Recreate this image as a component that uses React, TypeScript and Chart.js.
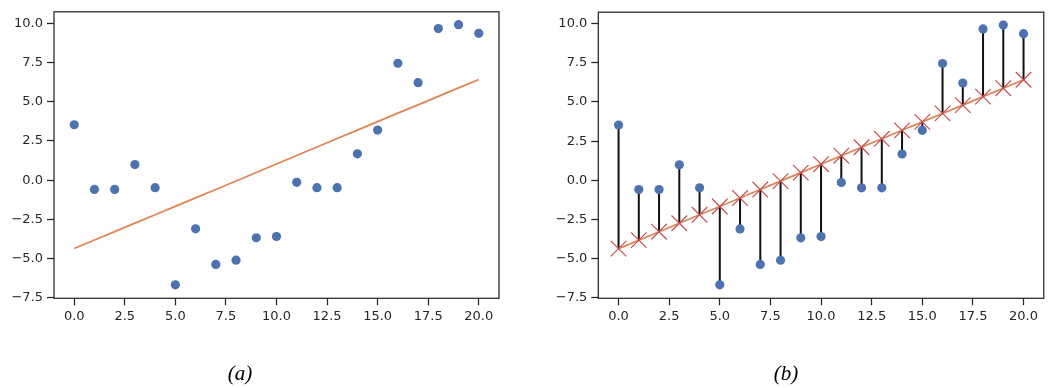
import React, { useEffect, useRef } from "react";
import { Chart, registerables } from "chart.js";

Chart.register(...registerables);

// ---- data ----
const xValues: number[] = [0, 1, 2, 3, 4, 5, 6, 7, 8, 9, 10, 11, 12, 13, 14, 15, 16, 17, 18, 19, 20];
const yValues: number[] = [
  3.53, -0.59, -0.59, 0.99, -0.48, -6.67, -3.1, -5.37, -5.1, -3.67, -3.59,
  -0.14, -0.48, -0.48, 1.68, 3.19, 7.45, 6.21, 9.66, 9.91, 9.36,
];
const fittedValues: number[] = [
  -4.36, -3.82, -3.28, -2.74, -2.2, -1.67, -1.13, -0.59, -0.05, 0.49, 1.03,
  1.57, 2.11, 2.65, 3.19, 3.73, 4.27, 4.8, 5.34, 5.88, 6.42,
];
const xTicks: number[] = [0, 2.5, 5, 7.5, 10, 12.5, 15, 17.5, 20];
const yTicks: number[] = [-7.5, -5, -2.5, 0, 2.5, 5, 7.5, 10];
const panelLabels: string[] = ["(a)", "(b)"];

const BLUE = "#4C72B0";
const ORANGE = "#DD8452";
const RED = "#C44E52";
const INK = "#262626";

const framePlugin = {
  id: "frame",
  afterDraw(chart: any) {
    const { ctx, chartArea } = chart;
    ctx.save();
    ctx.strokeStyle = INK;
    ctx.lineWidth = 1.25;
    ctx.strokeRect(chartArea.left, chartArea.top, chartArea.right - chartArea.left, chartArea.bottom - chartArea.top);
    ctx.restore();
  },
};

const fmt = (v: number) => v.toFixed(1).replace("-", "\u2212");

function scales() {
  const grid = {
    drawOnChartArea: false,
    drawTicks: true,
    tickLength: 7,
    tickWidth: 1.25,
    tickColor: INK,
  };
  const font = { family: "'DejaVu Sans'", size: 13 };
  return {
    x: {
      type: "linear",
      min: -1,
      max: 21,
      grid,
      border: { display: false },
      afterBuildTicks: (s: any) => {
        s.ticks = xTicks.map((v) => ({ value: v }));
      },
      afterFit: (s: any) => {
        s.height = 30;
      },
      ticks: { color: INK, font, padding: 4, maxRotation: 0, callback: (v: any) => fmt(Number(v)) },
    },
    y: {
      type: "linear",
      min: -7.53,
      max: 10.73,
      grid,
      border: { display: false },
      afterBuildTicks: (s: any) => {
        s.ticks = yTicks.map((v) => ({ value: v }));
      },
      afterFit: (s: any) => {
        s.width = 50;
      },
      ticks: { color: INK, font, padding: 4, callback: (v: any) => fmt(Number(v)) },
    },
  };
}

const points = xValues.map((x, i) => ({ x, y: yValues[i] }));
const fitPoints = xValues.map((x, i) => ({ x, y: fittedValues[i] }));

function makeConfigA(): any {
  return {
    type: "scatter",
    data: {
      datasets: [
        {
          data: points,
          pointRadius: 4.6,
          pointBackgroundColor: BLUE,
          pointBorderWidth: 0,
          showLine: false,
          order: 0,
        },
        {
          data: fitPoints,
          showLine: true,
          borderColor: ORANGE,
          borderWidth: 1.7,
          pointRadius: 0,
          order: 1,
        },
      ],
    },
    options: {
      animation: false,
      responsive: false,
      events: [],
      layout: { padding: { left: 4, right: 21, top: 9, bottom: 59.7 } },
      plugins: { legend: { display: false }, tooltip: { enabled: false } },
      scales: scales(),
    },
    plugins: [framePlugin],
  };
}

function makeConfigB(): any {
  const stems: any[] = [];
  xValues.forEach((x, i) => {
    stems.push({ x, y: fittedValues[i] });
    stems.push({ x, y: yValues[i] });
    stems.push({ x, y: null });
  });
  return {
    type: "scatter",
    data: {
      datasets: [
        {
          data: points,
          pointRadius: 4.6,
          pointBackgroundColor: BLUE,
          pointBorderWidth: 0,
          showLine: false,
          order: 0,
        },
        {
          data: fitPoints,
          showLine: false,
          pointStyle: "crossRot",
          pointRadius: 11,
          pointBorderColor: RED,
          pointBorderWidth: 1.2,
          order: 1,
        },
        {
          data: fitPoints,
          showLine: true,
          borderColor: ORANGE,
          borderWidth: 1.7,
          pointRadius: 0,
          order: 2,
        },
        {
          data: stems,
          showLine: true,
          spanGaps: false,
          borderColor: "#111111",
          borderWidth: 2,
          pointRadius: 0,
          order: 3,
        },
      ],
    },
    options: {
      animation: false,
      responsive: false,
      events: [],
      layout: { padding: { left: 28.3, right: 10.7, top: 9, bottom: 59.7 } },
      plugins: { legend: { display: false }, tooltip: { enabled: false } },
      scales: scales(),
    },
    plugins: [framePlugin],
  };
}

function Panel({ make, left, width }: { make: () => any; left: number; width: number }) {
  const ref = useRef<HTMLCanvasElement>(null);
  useEffect(() => {
    const chart = new Chart(ref.current as HTMLCanvasElement, make());
    return () => chart.destroy();
  }, []);
  return (
    <canvas
      ref={ref}
      width={width}
      height={388}
      style={{ position: "absolute", left, top: 0, width, height: 388 }}
    />
  );
}

export default function App() {
  const labelStyle = (cx: number): React.CSSProperties => ({
    position: "absolute",
    left: cx - 40,
    width: 80,
    top: 361,
    textAlign: "center",
    fontFamily: "'Liberation Serif', serif",
    fontStyle: "italic",
    fontSize: 21,
    color: "#000",
    lineHeight: "24px",
  });
  return (
    <div style={{ position: "fixed", left: 0, top: 0, width: 1056, height: 388, background: "#fff", overflow: "hidden" }}>
      <Panel make={makeConfigA} left={0} width={520} />
      <Panel make={makeConfigB} left={520} width={536} />
      <div style={labelStyle(240)}>{panelLabels[0]}</div>
      <div style={labelStyle(786)}>{panelLabels[1]}</div>
    </div>
  );
}
